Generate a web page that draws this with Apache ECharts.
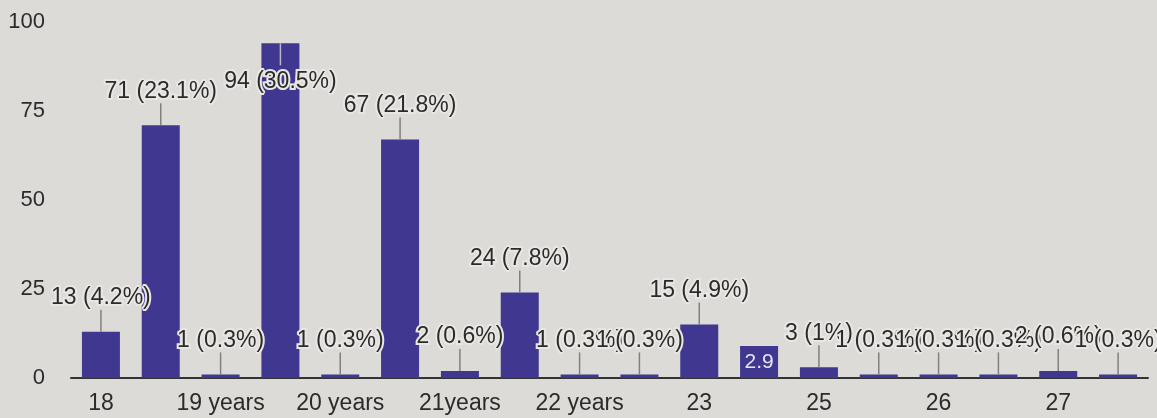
<!DOCTYPE html>
<html>
<head>
<meta charset="utf-8">
<script src="https://cdn.jsdelivr.net/npm/echarts@6/dist/echarts.min.js"></script>
<style>html,body{margin:0;padding:0;background:#dddbd7}#c{width:1157px;height:418px}</style>
</head>
<body>
<div id="c"></div>
<script>
const categories = ['18', '19', '19 years', '20', '20 years', '21', '21years', '22', '22 years', '22years', '23', '24', '25', '25 years', '26', '26 years', '27', '28'];
const counts = [13, 71, 1, 94, 1, 67, 2, 24, 1, 1, 15, 9, 3, 1, 1, 1, 2, 1];
const yTicks = [0, 25, 50, 75, 100];

const total = counts.reduce((a, b) => a + b, 0);
function pctText(v) {
  let p = Math.round(v / total * 1000) / 10;
  return (p % 1 === 0 ? p.toFixed(0) : p.toFixed(1));
}
const FONT = '"Liberation Sans", Arial, sans-serif';
const BAR = '#3f3790';
const TXT = '#2b2b2b';
const HALO = '#e9e7e4';
const GRID_TOP = 22;

const chart = echarts.init(document.getElementById('c'), null, {renderer: 'canvas'});
chart.setOption({
  backgroundColor: '#dddbd7',
  animation: false,
  grid: {left: 71, right: 9, top: GRID_TOP, bottom: 40, containLabel: false},
  xAxis: {
    type: 'category',
    data: categories,
    axisLine: {show: true, lineStyle: {color: '#333', width: 2}},
    axisTick: {show: false},
    axisLabel: {interval: 1, color: TXT, fontSize: 23, fontFamily: FONT, margin: 14}
  },
  yAxis: {
    type: 'value',
    min: yTicks[0], max: yTicks[yTicks.length - 1], interval: yTicks[1] - yTicks[0],
    axisLine: {show: false}, axisTick: {show: false},
    splitLine: {show: false},
    axisLabel: {color: TXT, fontSize: 22, fontFamily: FONT, margin: 26}
  },
  series: [
    {
      type: 'bar',
      data: counts,
      barWidth: 38,
      itemStyle: {color: BAR},
      z: 2
    },
    {
      type: 'custom',
      coordinateSystem: 'cartesian2d',
      data: counts.map((v, i) => [i, v]),
      encode: {x: 0, y: 1},
      clip: false,
      z: 3,
      renderItem: function (params, api) {
        const i = api.value(0), v = api.value(1);
        const top = api.coord([i, v]);
        const base = api.coord([i, 0]);
        const x = top[0], ty = top[1];
        const label = v + ' (' + pctText(v) + '%)';
        const children = [];
        if (i === 11) {
          children.push({
            type: 'text',
            style: {text: pctText(v), x: x, y: (ty + base[1]) / 2, align: 'center', verticalAlign: 'middle',
              fill: '#e8e6f2', font: '21px ' + FONT}
          });
          return {type: 'group', children: children};
        }
        let ly, s1, s2, stemColor = '#808080';
        if (ty - 34 - 12 < GRID_TOP - 8) {
          ly = ty + 38; s1 = ty; s2 = ty + 22; stemColor = '#b8b6c8';
        } else {
          ly = ty - 34; s1 = ty; s2 = ty - 22;
        }
        children.push({
          type: 'line',
          shape: {x1: x, y1: s1, x2: x, y2: s2},
          style: {stroke: stemColor, lineWidth: 1.5}
        });
        children.push({
          type: 'text',
          style: {text: label, x: x, y: ly, align: 'center', verticalAlign: 'middle',
            fill: TXT, stroke: HALO, lineWidth: 4, font: '23px ' + FONT}
        });
        return {type: 'group', children: children};
      }
    }
  ]
});
</script>
</body>
</html>
